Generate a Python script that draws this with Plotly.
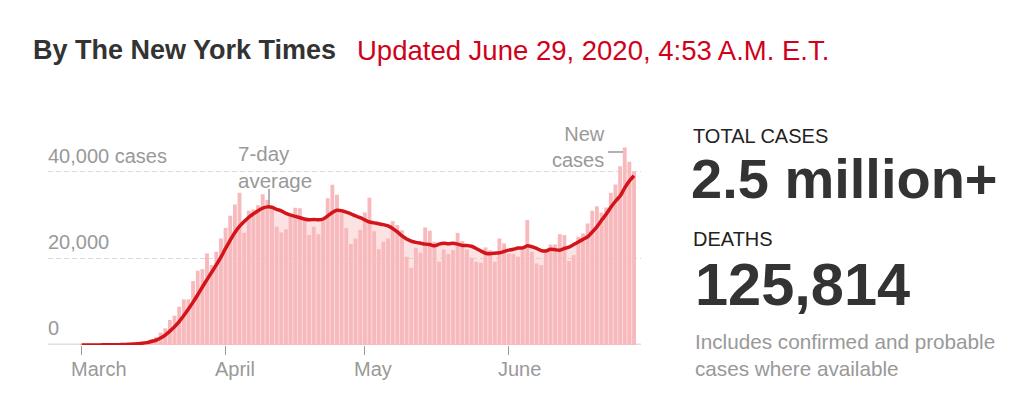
import pandas as pd
import plotly.graph_objects as go

# ---------------- data ----------------
dates = pd.date_range("2020-03-01", "2020-06-28", freq="D")

new_cases = [
    5, 10, 15, 20, 30, 60, 70, 95, 120, 190,
    280, 420, 500, 650, 900, 1300, 1800, 2850, 3850, 5770,
    6770, 8840, 10540, 10540, 14760, 17150, 17530, 21150, 18460, 21530,
    24610, 27070, 29840, 32450, 35140, 25920, 30990, 31300, 32300, 34800,
    33500, 31600, 27300, 26000, 26700, 29600, 31700, 31600, 29300, 25400,
    27300, 25600, 28900, 33900, 37000, 34700, 30400, 27000, 23300, 24600,
    26600, 30600, 34000, 26300, 22150, 23840, 24600, 28600, 27700, 26500,
    20380, 17840, 22450, 21300, 27150, 26380, 23840, 19230, 22070, 21000,
    21900, 25900, 24000, 22070, 20150, 19230, 19000, 22530, 21900, 19230,
    24600, 23450, 21150, 21000, 20380, 21900, 28840, 21530, 18840, 18460,
    21530, 23220, 23220, 25600, 25380, 19380, 20760, 25000, 25760, 28070,
    31000, 32070, 30530, 31760, 35140, 37070, 41300, 45600, 42300, 40000,
]

avg7 = [
    10, 12, 15, 20, 28, 38, 50, 65, 85, 115,
    160, 220, 300, 400, 550, 800, 1100, 1600, 2300, 3200,
    4200, 5400, 6800, 8300, 9900, 11600, 13400, 15100, 16800, 18500,
    20300, 22300, 24200, 26000, 27400, 28500, 29500, 30300, 31000, 31600,
    31900, 31800, 31300, 31000, 30400, 30000, 29700, 29400, 29100, 28900,
    29000, 28900, 29100, 29800, 30600, 31100, 31000, 30700, 30300, 29800,
    29400, 28900, 28400, 28200, 28000, 27800, 27500, 26900, 26100, 25200,
    24500, 24000, 23700, 23500, 23300, 23200, 22900, 23300, 23500, 23400,
    23500, 23300, 23000, 23000, 22800, 22300, 21700, 21200, 21100, 21200,
    21300, 21600, 21900, 22100, 22400, 22400, 22900, 22700, 22300, 21800,
    21700, 22100, 22000, 21900, 22300, 22600, 23200, 23800, 24400, 25000,
    26100, 27300, 28800, 30200, 31800, 33200, 34400, 36300, 37900, 39100,
]

month_ticks = ["2020-03-01", "2020-04-01", "2020-05-01", "2020-06-01"]
month_labels = ["March", "April", "May", "June"]
y_ticks = [0, 20000, 40000]
y_labels = ["0", "20,000", "40,000 cases"]

title_left = "By The New York Times"
title_right = "Updated June 29, 2020, 4:53 A.M. E.T."

# ---------------- geometry ----------------
PAGE_OFF = 8  # default page body margin
W, H = 1023 - PAGE_OFF, 411 - PAGE_OFF
L, R, T, B = 48, 641, 130, 345  # plot area in reference pixels
YMAX = (B - T) / 86.6 * 20000
XRANGE = ["2020-02-22 17:46", "2020-06-29 12:00"]

BAR = "#f7b9bc"
AREA = "rgba(247,185,188,0.42)"
RED = "#d3141a"
GRAY = "#999999"
FONT = "Liberation Sans, Arial, sans-serif"


def px(xp):
    return (xp - L) / (R - L)


def py(yp):
    return (B - yp) / (B - T)


fig = go.Figure()

# light area under the 7-day average (main axes, drawn beneath)
fig.add_trace(go.Scatter(x=dates, y=avg7, mode="lines", line=dict(width=0),
                         fill="tozeroy", fillcolor=AREA, hoverinfo="skip",
                         xaxis="x", yaxis="y"))
# bars + line on overlay axes
fig.add_trace(go.Bar(x=dates, y=new_cases, marker=dict(color=BAR, line=dict(width=0)),
                     xaxis="x2", yaxis="y2"))
fig.add_trace(go.Scatter(x=dates, y=avg7, mode="lines",
                         line=dict(color=RED, width=3.5, shape="spline", smoothing=0.6),
                         xaxis="x2", yaxis="y2"))

fig.update_layout(
    width=W, height=H,
    margin=dict(l=L - PAGE_OFF, r=1023 - R, t=T - PAGE_OFF, b=411 - B, pad=0),
    paper_bgcolor="white", plot_bgcolor="white",
    showlegend=False, bargap=0.17,
    font=dict(family=FONT, color=GRAY),
    xaxis=dict(type="date", range=XRANGE, tickvals=month_ticks, showticklabels=False,
               ticks="outside", ticklen=9, tickwidth=1.2, tickcolor=GRAY,
               showgrid=False, zeroline=False, showline=False, fixedrange=True),
    yaxis=dict(range=[0, YMAX], tickvals=y_ticks[1:], showticklabels=False,
               showgrid=True, gridcolor="#d9d9d9", gridwidth=1, griddash="5px,3px",
               zeroline=False, showline=False, fixedrange=True),
    xaxis2=dict(type="date", range=XRANGE, overlaying="x", visible=False, fixedrange=True),
    yaxis2=dict(range=[0, YMAX], overlaying="y", visible=False, fixedrange=True),
)

# baseline
fig.add_shape(type="line", xref="paper", yref="y", x0=0, x1=1, y0=0, y1=0,
              line=dict(color="#e0e0e0", width=3), layer="below")

anns = []


def ann(text, xp, yp, size, color, bold=False, xanchor="left", align="left", family=FONT):
    if bold:
        text = "<b>" + text + "</b>"
    anns.append(dict(text=text, x=px(xp), y=py(yp), xref="paper", yref="paper",
                     xanchor=xanchor, yanchor="middle", align=align, showarrow=False,
                     font=dict(size=size, color=color, family=family)))


# header
ann(title_left, 31, 50, 27, "#333333", bold=True)
ann(title_right, 355, 50, 27.5, "#d0021b")

# y labels
for v, lab, yp in zip(y_ticks, y_labels, [328, 242, 156]):
    ann(lab, 46, yp, 20, GRAY)

# month labels
for d, lab in zip(month_ticks, month_labels):
    anns.append(dict(text=lab, x=d, y=py(369), xref="x", yref="paper", xanchor="left",
                     yanchor="middle", showarrow=False, xshift=-13,
                     font=dict(size=20, color=GRAY, family=FONT)))

# chart callouts
ann("7-day<br>average", 236, 167, 20.5, GRAY)
ann("New<br>cases", 607, 147, 20, GRAY, xanchor="right", align="right")

# right panel
ann("TOTAL CASES", 691, 136, 20, "#222222")
ann("2.5 million+", 689, 178, 56, "#333333", bold=True)
ann("DEATHS", 691, 239, 20, "#222222")
ann("125,814", 693, 284, 59.5, "#333333", bold=True)
ann("Includes confirmed and probable<br>cases where available", 693, 355, 20.7, GRAY)

fig.update_layout(annotations=anns)

# callout leader lines
fig.add_shape(type="line", xref="paper", yref="paper", x0=px(269), x1=px(269),
              y0=py(189), y1=py(205), line=dict(color=GRAY, width=1.5))
fig.add_shape(type="line", xref="paper", yref="paper", x0=px(608), x1=px(623),
              y0=py(152), y1=py(152), line=dict(color=GRAY, width=1.5))

fig.write_html("out.html")
